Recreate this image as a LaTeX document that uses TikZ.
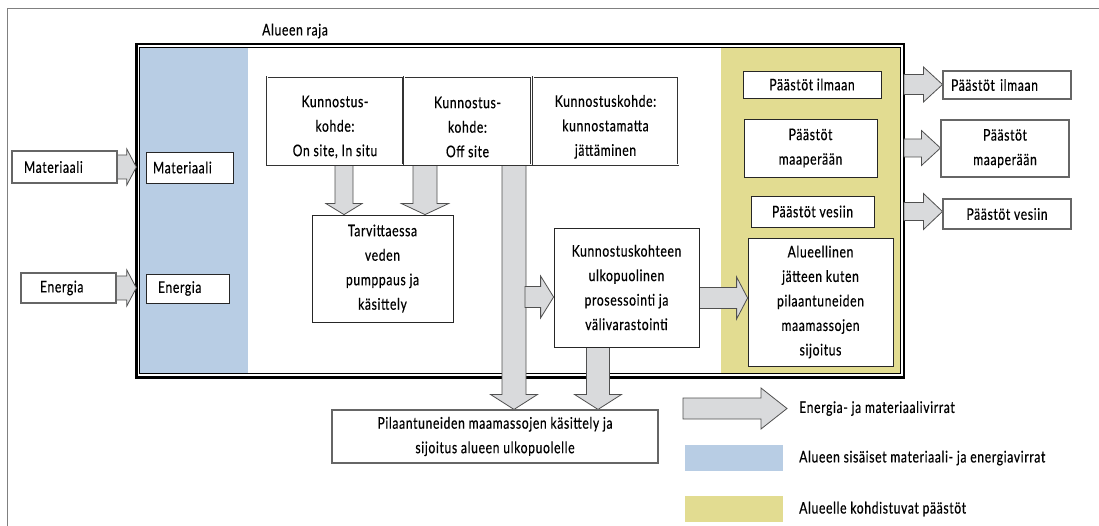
\documentclass[tikz,border=0pt]{standalone}
\usepackage{fontspec}
\setmainfont{Lato}[FakeStretch=0.76,LetterSpace=4,FakeBold=0.5]
\usetikzlibrary{calc}
\pgfdeclarelayer{bg}
\pgfdeclarelayer{flows}
\pgfsetlayers{bg,flows,main}

\definecolor{areablue}{RGB}{184,205,228}
\definecolor{emityellow}{RGB}{226,220,145}
\definecolor{flowgray}{RGB}{217,218,220}
\definecolor{edgegray}{RGB}{80,80,80}
\definecolor{framegray}{RGB}{128,128,128}

\newcommand\diagfont{\fontsize{16}{24.5}\selectfont}
% pushes a centred multi-line text block down a little
\newcommand\lowerblock{\mbox{}\\[-1pt]}

% block arrow pointing right: from #1 to the x of #2, shaft half-width #3,
% head half-width #4, head length #5 (all in pt)
\newcommand\flowH[5]{%
  \draw[flow] let \p1=(#1), \p2=(#2) in
    (\x1,\y1+#3) -- (\x2-#5,\y1+#3) -- (\x2-#5,\y1+#4) -- (\x2,\y1)
    -- (\x2-#5,\y1-#4) -- (\x2-#5,\y1-#3) -- (\x1,\y1-#3) -- cycle;}
% block arrow pointing down: from #1 to the y of #2
\newcommand\flowV[5]{%
  \draw[flow] let \p1=(#1), \p2=(#2) in
    (\x1-#3,\y1) -- (\x1-#3,\y2+#5) -- (\x1-#4,\y2+#5) -- (\x1,\y2)
    -- (\x1+#4,\y2+#5) -- (\x1+#3,\y2+#5) -- (\x1+#3,\y1) -- cycle;}

\tikzset{
  every node/.style={font=\diagfont},
  flow/.style={fill=flowgray, draw=edgegray, line width=0.8pt, line join=miter},
  box/.style={draw=black!85, fill=white, line width=0.8pt, inner sep=0pt, align=center},
  outbox/.style={box, draw=black!60, line width=1.1pt},
  sitebox/.style={box, double=white, double distance=1pt, line width=0.6pt, draw=black!80},
  lefttext/.style={align=left, inner ysep=0pt},
  legtext/.style={anchor=west, inner sep=0pt},
}

\begin{document}
\begin{tikzpicture}[x=1pt, y=-1pt]
\useasboundingbox (0,0) rectangle (1099,526);

% outer page frame (top and left edges)
\draw[framegray, line width=1pt] (1099,8.5) -- (7.5,8.5) -- (7.5,526);

\coordinate (areaNW) at (136.3,44);
\coordinate (areaSE) at (904,377.5);

\begin{pgfonlayer}{bg}
  \fill[areablue] (139.5,47) rectangle (248,374);
  \fill[emityellow] (721,47) rectangle (900.5,374);
  \draw[black, line width=2.8pt] (areaNW) rectangle (areaSE);
  \draw[black, line width=1.3pt] (139.8,47.2) rectangle (900.5,373.6);
  \fill[areablue] (685,445) rectangle (783,471);
  \fill[emityellow] (685,496) rectangle (783,522);
\end{pgfonlayer}

\node[anchor=west, inner sep=0pt] (raja) at (262,31) {Alueen raja};

% inputs
\node[outbox, lefttext, inner xsep=12pt, text width=81pt, minimum height=32pt] (mat1) at (64.5,167) {Materiaali};
\node[box, lefttext, inner xsep=7pt, text width=73pt, minimum height=31pt] (mat2) at (189.5,167.5) {Materiaali};
\node[outbox, lefttext, inner xsep=19pt, text width=57pt, minimum height=30pt] (en1) at (68.5,288) {Energia};
\node[box, lefttext, inner xsep=12pt, text width=59pt, minimum height=29pt] (en2) at (187.5,288.5) {Energia};

% remediation targets
\node[sitebox, minimum width=136pt, minimum height=88pt] (k1) at (335,121) {\lowerblock Kunnostus-\\kohde:\\On site, In situ};
\node[sitebox, minimum width=127pt, minimum height=88pt] (k2) at (467.5,121) {\lowerblock Kunnostus-\\kohde:\\Off site};
\node[sitebox, minimum width=145pt, minimum height=88pt] (k3) at (605.5,121) {\lowerblock Kunnostuskohde:\\kunnostamatta\\jättäminen};

\node[box, minimum width=141pt, minimum height=107pt] (tarv) at (382.5,268.5) {Tarvittaessa\\veden\\pumppaus ja\\käsittely};
\node[box, minimum width=145pt, minimum height=119pt] (proc) at (626.5,287.5) {Kunnostuskohteen\\ulkopuolinen\\prosessointi ja\\välivarastointi};

% emissions inside the area
\node[box, minimum width=138pt, minimum height=27pt] (ilmaIn) at (812,84.5) {Päästöt ilmaan};
\node[box, minimum width=133pt, minimum height=58pt] (maaIn) at (810.5,148) {Päästöt\\maaperään};
\node[box, minimum width=123pt, minimum height=31pt] (vesIn) at (812.5,211.5) {Päästöt vesiin};
\node[box, minimum width=145pt, minimum height=128pt] (alue) at (820.5,302) {Alueellinen\\jätteen kuten\\pilaantuneiden\\maamassojen\\sijoitus};

% emissions leaving the area
\node[outbox, lefttext, inner xsep=8pt, text width=112pt, minimum height=28pt] (ilmaOut) at (1007,85) {Päästöt ilmaan};
\node[outbox, minimum width=128pt, minimum height=57pt] (maaOut) at (1005,148.5) {Päästöt\\maaperään};
\node[outbox, minimum width=128pt, minimum height=30pt] (vesOut) at (1007,214) {Päästöt vesiin};

\node[outbox, minimum width=326pt, minimum height=53pt] (ulko) at (495,436.5) {Pilaantuneiden maamassojen käsittely ja\\sijoitus alueen ulkopuolelle};

% legend
\coordinate (legA) at (683,408.5);
\coordinate (legB) at (787,408.5);
\node[legtext] (legflow) at (799,408.5) {Energia- ja materiaalivirrat};
\node[legtext] (legblue) at (799,458) {Alueen sisäiset materiaali- ja energiavirrat};
\node[legtext] (legyel) at (799,509) {Alueelle kohdistuvat päästöt};

\coordinate (tap) at (525,297);

\begin{pgfonlayer}{flows}
  \flowH{mat1.east}{areaNW |- mat1.east}{12}{18}{9.5}
  \flowH{en1.east}{areaNW |- en1.east}{12}{18}{9.5}
  \flowV{[xshift=9pt]k1.south}{tarv.north}{9}{18}{11}
  \flowV{[xshift=-42.5pt]k2.south}{tarv.north}{12}{23.5}{11}
  \flowV{[xshift=46.5pt]k2.south}{ulko.north}{12}{23.5}{15}
  \flowH{tap}{proc.west}{10.5}{21}{13}
  \flowV{[xshift=-28.5pt]proc.south}{ulko.north}{11.5}{23.5}{15}
  \flowH{[yshift=-10.5pt]proc.east}{alue.west}{10.5}{21}{11}
  \flowH{areaSE |- ilmaIn.east}{ilmaOut.west}{10}{17.5}{19}
  \flowH{areaSE |- maaIn.east}{maaOut.west}{9}{17.5}{19}
  \flowH{areaSE |- vesIn.east}{vesOut.west}{9}{18}{19}
  \flowH{legA}{legB}{10.5}{20.5}{26}
\end{pgfonlayer}
\end{tikzpicture}
\end{document}
